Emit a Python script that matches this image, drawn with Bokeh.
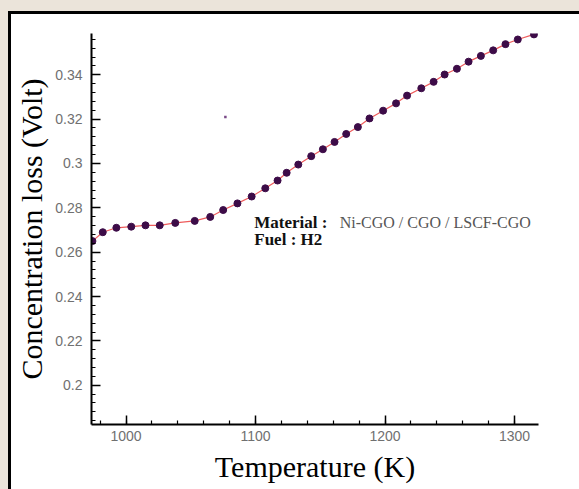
from bokeh.plotting import figure
from bokeh.models import FixedTicker, CustomJSTickFormatter, Range1d
from bokeh.embed import file_html
from bokeh.resources import INLINE
from bokeh.core.properties import value

# ---- data ----
temperature = [974, 982, 992.5, 1004, 1015, 1026, 1038, 1053, 1065, 1075, 1086, 1097,
               1107.5, 1117, 1124, 1133, 1143, 1152, 1161, 1170, 1179, 1188, 1198.5,
               1208.5, 1217, 1228, 1237.5, 1246, 1255.5, 1264.5, 1274, 1283.5, 1293,
               1302.5, 1315]
conc_loss = [0.265, 0.269, 0.271, 0.2715, 0.2721, 0.2721, 0.2732, 0.2741, 0.2759, 0.279,
             0.282, 0.2851, 0.2888, 0.2923, 0.2958, 0.2995, 0.3033, 0.3064, 0.3097,
             0.3133, 0.3164, 0.3203, 0.3238, 0.3271, 0.3306, 0.3339, 0.3368, 0.3401,
             0.3427, 0.3459, 0.3485, 0.351, 0.3538, 0.3559, 0.3582]
stray_x = [1076.7]
stray_y = [0.3209]

x_major = [1000, 1100, 1200, 1300]
x_minor = [980 + 20 * i for i in range(17)]
y_major = [0.2, 0.22, 0.24, 0.26, 0.28, 0.3, 0.32, 0.34]
y_minor = [0.184 + 0.004 * i for i in range(44)]

x_label = "Temperature (K)"
y_label = "Concentration loss (Volt)"
note_material_head = "Material :"
note_material = "Ni-CGO / CGO / LSCF-CGO"
note_fuel = "Fuel : H2"

SERIF = "Liberation Serif"
SANS = "Liberation Sans"
BEIGE = "#ebe4da"

# canvas sits inside a black-edged frame offset from the page's top-left corner
p = figure(width=568, height=475, output_backend="svg", toolbar_location=None,
           x_range=Range1d(973.3, 1318.5), y_range=Range1d(0.1823, 0.3586),
           min_border_left=80, min_border_right=44, min_border_top=19, min_border_bottom=68)
p.styles = {
    "box-sizing": "content-box",
    "margin-left": "8px",
    "margin-top": "11px",
    "border-left": "3px solid black",
    "border-top": "3px solid black",
    "box-shadow": f"0 0 0 40px {BEIGE}",
}
p.border_fill_color = "white"
p.background_fill_color = "white"
p.outline_line_color = None
p.xgrid.visible = False
p.ygrid.visible = False

p.line(temperature, conc_loss, line_color="#ee5c5c", line_width=1.2)
p.scatter(temperature, conc_loss, size=7, fill_color="#3d0c48", line_color="#3d0c48")
p.scatter(stray_x, stray_y, marker="square", size=2.5, fill_color="#7a4a88", line_color=None)

fmt = CustomJSTickFormatter(code="return String(Math.round(tick*1000)/1000);")

for ax, major, minor, lab in ((p.xaxis[0], x_major, x_minor, x_label),
                              (p.yaxis[0], y_major, y_minor, y_label)):
    ax.ticker = FixedTicker(ticks=major, minor_ticks=minor)
    ax.formatter = fmt
    ax.axis_label = lab
    ax.axis_label_text_font = SERIF
    ax.axis_label_text_font_style = "normal"
    ax.axis_label_text_color = "black"
    ax.axis_line_color = "black"
    ax.axis_line_width = 2
    ax.major_tick_in = 9
    ax.major_tick_out = 0
    ax.minor_tick_in = 4
    ax.minor_tick_out = 0
    ax.major_tick_line_color = "black"
    ax.major_tick_line_width = 1.5
    ax.minor_tick_line_color = "black"
    ax.minor_tick_line_width = 1.2
    ax.major_label_text_font = SANS
    ax.major_label_text_font_size = "14px"
    ax.major_label_text_color = "#707070"

p.xaxis.axis_label_text_font_size = "30px"
p.yaxis.axis_label_text_font_size = "30px"
p.xaxis.major_label_standoff = 6
p.yaxis.major_label_standoff = 9
p.xaxis.axis_label_standoff = 6
p.yaxis.axis_label_standoff = 4

p.text(x=[1099], y=[0.2736], text=[note_material_head], text_font=value(SERIF),
       text_font_style="bold", text_font_size="17px", text_color="#111111",
       text_baseline="alphabetic", text_align="left")
p.text(x=[1165], y=[0.2736], text=[note_material], text_font=value(SERIF),
       text_font_style="normal", text_font_size="16px", text_color="#555555",
       text_baseline="alphabetic", text_align="left")
p.text(x=[1099], y=[0.2659], text=[note_fuel], text_font=value(SERIF),
       text_font_style="bold", text_font_size="17px", text_color="#111111",
       text_baseline="alphabetic", text_align="left")

open("out.html", "w").write(file_html(p, INLINE))
